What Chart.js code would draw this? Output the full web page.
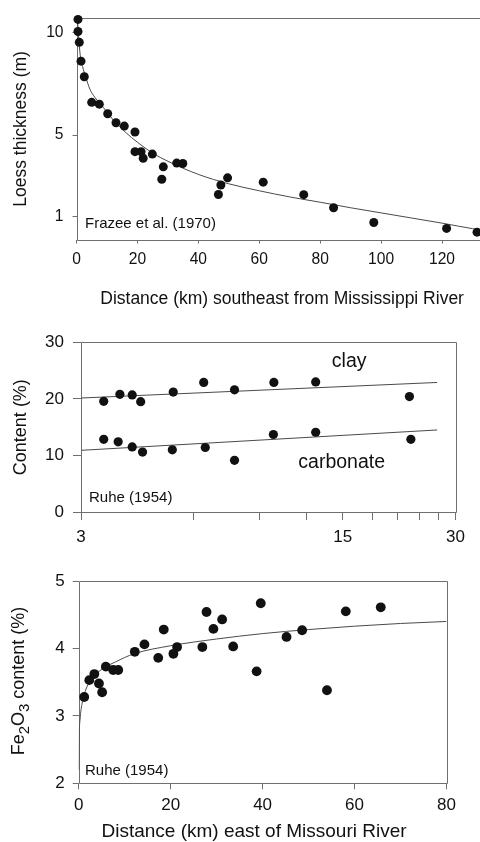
<!DOCTYPE html>
<html><head><meta charset="utf-8">
<script src="https://cdn.jsdelivr.net/npm/chart.js@4/dist/chart.umd.min.js"></script>
<style>
html,body{margin:0;padding:0;background:#fff;overflow:hidden;width:480px;height:842px;}
canvas{position:absolute;left:0;}
</style></head><body>
<canvas id="c1" width="500" height="310" style="top:0px"></canvas>
<canvas id="c2" width="480" height="230" style="top:320px"></canvas>
<canvas id="c3" width="480" height="282" style="top:560px"></canvas>
<script>
// ---------- Panel 1: loess thickness ----------
const loessDist = [0.49,0.49,0.92,1.48,2.56,4.99,7.49,10.24,12.97,15.69,19.2,19.2,21.2,21.9,24.9,28.5,28.0,32.9,34.9,46.6,47.4,49.6,61.3,74.6,84.4,97.6,121.5,131.5];
const loessThick = [10.65,10.06,9.53,8.61,7.85,6.60,6.51,6.04,5.60,5.44,5.15,4.19,4.19,3.87,4.07,3.45,2.84,3.63,3.61,2.10,2.56,2.91,2.70,2.09,1.45,0.73,0.44,0.26];
const loessCurveX = [0.3,0.6,1.15,2,3,4.4,6,8.8,12,16,20,25,30,40,50,60,70,80,90,100,110,120,130,135];
const loessCurveY = [10.7,10.0,9.0,8.35,7.85,7.24,6.85,6.35,5.75,5.15,4.65,4.12,3.72,3.08,2.62,2.28,1.98,1.72,1.45,1.2,0.95,0.7,0.43,0.32];
const loessXTicks = [0,20,40,60,80,100,120];
const loessYTicks = [1,5,10];

// ---------- Panel 2: clay & carbonate ----------
const clayDist = [3.45,3.81,4.11,4.33,5.29,6.38,7.71,9.82,12.7,22.6];
const clayPct = [19.57,20.8,20.7,19.5,21.2,22.9,21.6,22.9,23.0,20.4];
const carbDist = [3.45,3.77,4.11,4.38,5.26,6.44,7.71,9.79,12.7,22.8];
const carbPct = [12.85,12.4,11.5,10.6,11.0,11.4,9.13,13.7,14.1,12.85];
const fitDist = [3,26.8];
const clayFit = [20.15,22.9];
const carbFit = [10.9,14.5];
const midXTicks = [3,6,9,12,15,18,21,24,27,30];
const midXLabels = [3,15,30];
const midYTicks = [0,10,20,30];

// ---------- Panel 3: Fe2O3 ----------
const feDist = [1.2,2.3,3.4,4.4,5.1,5.9,7.5,8.6,12.2,14.3,17.3,18.5,20.6,21.4,26.9,27.8,29.3,31.2,33.6,38.7,39.6,45.2,48.6,54.0,58.1,65.7];
const fePct = [3.28,3.53,3.62,3.48,3.35,3.73,3.68,3.68,3.95,4.06,3.86,4.28,3.92,4.02,4.02,4.54,4.29,4.43,4.03,3.66,4.67,4.17,4.27,3.38,4.55,4.61];
const feCurveX = [0.03,0.1,0.3,0.7,1.5,3,5,8,12,20,30,40,50,60,70,80];
const feCurveY = [2.2,2.65,2.95,3.17,3.38,3.56,3.69,3.8,3.92,4.04,4.14,4.22,4.28,4.33,4.37,4.40];
const feXTicks = [0,20,40,60,80];
const feYTicks = [2,3,4,5];

const FONT = "'Liberation Sans', Arial, Helvetica, sans-serif";
const INK = '#111111';
const AXIS = '#6f6f6f';
const LINE = '#4a4a4a';
Chart.defaults.font.family = FONT;
Chart.defaults.color = INK;

const xy = (xs, ys) => xs.map((x, i) => ({x: x, y: ys[i]}));
const setTicks = arr => (s => { s.ticks = arr.map(v => ({value: v})); });

const frame = {
  id: 'frame',
  beforeDatasetsDraw(chart) {
    const {ctx, chartArea: a} = chart;
    const l = Math.round(a.left) + 0.5, t = Math.round(a.top) + 0.5;
    const r = Math.round(a.right) + 0.5, b = Math.round(a.bottom) + 0.5;
    ctx.save();
    ctx.strokeStyle = AXIS; ctx.lineWidth = 1;
    ctx.beginPath(); ctx.rect(l, t, r - l, b - t); ctx.stroke();
    ctx.restore();
  }
};

function axisCommon(tickLen, pad, size) {
  return {
    border: {display: false},
    grid: {display: true, drawOnChartArea: false, drawTicks: true, tickLength: tickLen, color: AXIS, lineWidth: 1},
    ticks: {font: {size: size}, padding: pad, color: INK, maxRotation: 0, autoSkip: false}
  };
}

function pointSet(data, r) {
  return {data: data, showLine: false, pointRadius: r, pointHoverRadius: r, backgroundColor: INK, borderWidth: 0, clip: false};
}
function lineSet(data) {
  return {data: data, showLine: true, pointRadius: 0, borderColor: LINE, borderWidth: 1, fill: false, cubicInterpolationMode: 'monotone'};
}
const base = {responsive: false, animation: false, devicePixelRatio: 1, events: [],
  plugins: {legend: {display: false}, tooltip: {enabled: false}}};

// ----- Chart 1 -----
new Chart(document.getElementById('c1'), {
  type: 'scatter',
  data: {datasets: [pointSet(xy(loessDist, loessThick), 4.5), lineSet(xy(loessCurveX, loessCurveY))]},
  options: Object.assign({}, base, {
    layout: {autoPadding: false, padding: {top: 14.7, right: 12.3, left: 0, bottom: 0}},
    scales: {
      x: Object.assign(axisCommon(4, 7, 15.6), {
        type: 'linear', min: 0, max: 135,
        afterBuildTicks: setTicks(loessXTicks), afterFit: s => { s.height = 70.5; },
        title: {display: true, text: 'Distance (km) southeast from Mississippi River', font: {size: 17.5}, color: INK, padding: {top: 6.5, bottom: 0}}
      }),
      y: Object.assign(axisCommon(4, 9, 15.6), {
        type: 'linear', min: -0.1, max: 10.7,
        afterBuildTicks: setTicks(loessYTicks), afterFit: s => { s.width = 76.5; },
        title: {display: true, text: 'Loess thickness (m)', font: {size: 17.5}, color: INK, padding: {top: 10.5, bottom: 0}}
      })
    }
  }),
  plugins: [frame, {
    id: 'note1',
    afterDraw(chart) {
      const {ctx, chartArea: a} = chart;
      ctx.save(); ctx.fillStyle = INK; ctx.font = '15px ' + FONT;
      ctx.textAlign = 'left'; ctx.textBaseline = 'middle';
      ctx.fillText('Frazee et al. (1970)', a.left + 8.5, a.bottom - 15.5);
      ctx.restore();
    }
  }]
});

// ----- Chart 2 -----
new Chart(document.getElementById('c2'), {
  type: 'scatter',
  data: {datasets: [
    pointSet(xy(clayDist, clayPct), 4.6),
    pointSet(xy(carbDist, carbPct), 4.6),
    lineSet(xy(fitDist, clayFit)),
    lineSet(xy(fitDist, carbFit))
  ]},
  options: Object.assign({}, base, {
    layout: {autoPadding: false, padding: {top: 22.3, right: 24.5, left: 0, bottom: 0}},
    scales: {
      x: Object.assign(axisCommon(8, 7, 17), {
        type: 'logarithmic', min: 3, max: 30,
        afterBuildTicks: setTicks(midXTicks), afterFit: s => { s.height = 38; }
      }),
      y: Object.assign(axisCommon(8, 9, 17), {
        type: 'linear', min: 0, max: 30,
        afterBuildTicks: setTicks(midYTicks), afterFit: s => { s.width = 81; },
        title: {display: true, text: 'Content (%)', font: {size: 18}, color: INK, padding: {top: 10.2, bottom: 0}}
      })
    }
  }),
  plugins: [frame, {
    id: 'note2',
    afterDraw(chart) {
      const {ctx, chartArea: a, scales} = chart;
      ctx.save(); ctx.fillStyle = INK;
      ctx.font = '19.5px ' + FONT; ctx.textAlign = 'center'; ctx.textBaseline = 'middle';
      ctx.fillText('clay', scales.x.getPixelForValue(15.6), scales.y.getPixelForValue(26.6));
      ctx.fillText('carbonate', scales.x.getPixelForValue(14.9), scales.y.getPixelForValue(8.7));
      ctx.font = '15px ' + FONT; ctx.textAlign = 'left';
      ctx.fillText('Ruhe (1954)', a.left + 8, a.bottom - 14);
      ctx.restore();
    }
  }]
});
// show only selected labels on the log axis
Chart.getChart('c2').options.scales.x.ticks.callback = v => (midXLabels.includes(v) ? String(v) : '');
Chart.getChart('c2').update();

// ----- Chart 3 -----
new Chart(document.getElementById('c3'), {
  type: 'scatter',
  data: {datasets: [pointSet(xy(feDist, fePct), 4.9), lineSet(xy(feCurveX, feCurveY))]},
  options: Object.assign({}, base, {
    layout: {autoPadding: false, padding: {top: 21, right: 33.5, left: 0, bottom: 0}},
    scales: {
      x: Object.assign(axisCommon(6, 5.5, 17), {
        type: 'linear', min: 0, max: 80,
        afterBuildTicks: setTicks(feXTicks), afterFit: s => { s.height = 58.7; }
      }),
      y: Object.assign(axisCommon(6, 8, 17), {
        type: 'linear', min: 2, max: 5,
        afterBuildTicks: setTicks(feYTicks), afterFit: s => { s.width = 78.7; }
      })
    }
  }),
  plugins: [frame, {
    id: 'note3',
    afterDraw(chart) {
      const {ctx, chartArea: a} = chart;
      ctx.save(); ctx.fillStyle = INK;
      ctx.font = '15px ' + FONT; ctx.textAlign = 'left'; ctx.textBaseline = 'middle';
      ctx.fillText('Ruhe (1954)', a.left + 6.3, a.bottom - 12.6);
      // x-axis title
      ctx.font = '19px ' + FONT; ctx.textAlign = 'center';
      ctx.fillText('Distance (km) east of Missouri River', 254, 271.5);
      // y-axis title with subscripts
      const parts = [['Fe', 0], ['2', 1], ['O', 0], ['3', 1], [' content (%)', 0]];
      const big = '18px ' + FONT, small = '15px ' + FONT;
      let w = 0;
      parts.forEach(p => { ctx.font = p[1] ? small : big; w += ctx.measureText(p[0]).width; });
      ctx.translate(19.5, 121); ctx.rotate(-Math.PI / 2);
      ctx.textAlign = 'left';
      let x = -w / 2;
      parts.forEach(p => {
        ctx.font = p[1] ? small : big;
        ctx.fillText(p[0], x, p[1] ? 5 : 0);
        x += ctx.measureText(p[0]).width;
      });
      ctx.restore();
    }
  }]
});
</script>
</body></html>
